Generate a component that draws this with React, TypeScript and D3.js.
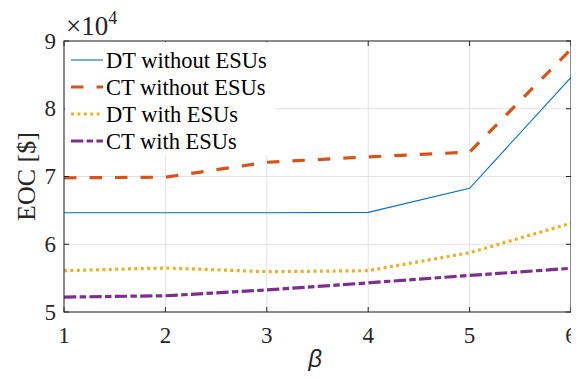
import React, { useEffect, useRef } from 'react';
import * as d3 from 'd3';

const betas = [1, 2, 3, 4, 5, 6];
const dtWithout = [6.465, 6.465, 6.465, 6.47, 6.826, 8.464];
const ctWithout = [6.98, 6.99, 7.21, 7.29, 7.36, 8.88];
const dtWith = [5.61, 5.65, 5.595, 5.61, 5.875, 6.31];
const ctWith = [5.22, 5.24, 5.325, 5.43, 5.54, 5.645];
const xTicks = [1, 2, 3, 4, 5, 6];
const yTicks = [5, 6, 7, 8, 9];

const series = [
  { name: 'DT without ESUs', values: dtWithout, color: '#0072BD', width: 1.1, dash: '' },
  { name: 'CT without ESUs', values: ctWithout, color: '#D95319', width: 3.2, dash: '12.5,13' },
  { name: 'DT with ESUs', values: dtWith, color: '#EDB120', width: 3.2, dash: '3,3.4' },
  { name: 'CT with ESUs', values: ctWith, color: '#7E2F8E', width: 3.2, dash: '12.3,3.3,6.5,3.3' },
];

const W = 579;
const H = 379;
const FONT = 'Liberation Serif';

const App = () => {
  const svgRef = useRef<SVGSVGElement>(null);

  useEffect(() => {
    const svg = d3.select(svgRef.current);
    svg.selectAll('*').remove();
    svg.attr('font-family', FONT);

    const margin = { top: 41, right: 8, bottom: 67, left: 64 };
    const innerWidth = W - margin.left - margin.right;
    const innerHeight = H - margin.top - margin.bottom;
    const axisColor = '#262626';

    const g = svg.append('g').attr('transform', `translate(${margin.left},${margin.top})`);

    const x = d3.scaleLinear().domain([1, 6]).range([0, innerWidth]);
    const y = d3.scaleLinear().domain([5, 9]).range([innerHeight, 0]);

    // grid
    g.append('g')
      .selectAll('line')
      .data(xTicks)
      .enter()
      .append('line')
      .attr('x1', d => x(d))
      .attr('x2', d => x(d))
      .attr('y1', 0)
      .attr('y2', innerHeight)
      .attr('stroke', '#e3e3e3')
      .attr('stroke-width', 1);
    g.append('g')
      .selectAll('line')
      .data(yTicks)
      .enter()
      .append('line')
      .attr('x1', 0)
      .attr('x2', innerWidth)
      .attr('y1', d => y(d))
      .attr('y2', d => y(d))
      .attr('stroke', '#e3e3e3')
      .attr('stroke-width', 1);

    // lines
    const line = d3
      .line<number>()
      .x((_, i) => x(betas[i]))
      .y(d => y(d));

    series.forEach(s => {
      g.append('path')
        .datum(s.values)
        .attr('d', line)
        .attr('fill', 'none')
        .attr('stroke', s.color)
        .attr('stroke-width', s.width)
        .attr('stroke-dasharray', s.dash);
    });

    // axes box
    const ax = g.append('g').attr('stroke', axisColor).attr('stroke-width', 1);
    ax.append('rect')
      .attr('x', 0)
      .attr('y', 0)
      .attr('width', innerWidth)
      .attr('height', innerHeight)
      .attr('fill', 'none');

    const tickLen = 5;
    xTicks.forEach(t => {
      ax.append('line').attr('x1', x(t)).attr('x2', x(t)).attr('y1', innerHeight).attr('y2', innerHeight - tickLen);
      ax.append('line').attr('x1', x(t)).attr('x2', x(t)).attr('y1', 0).attr('y2', tickLen);
    });
    yTicks.forEach(t => {
      ax.append('line').attr('x1', 0).attr('x2', tickLen).attr('y1', y(t)).attr('y2', y(t));
      ax.append('line').attr('x1', innerWidth).attr('x2', innerWidth - tickLen).attr('y1', y(t)).attr('y2', y(t));
    });

    // tick labels
    g.append('g')
      .selectAll('text')
      .data(xTicks)
      .enter()
      .append('text')
      .attr('x', d => x(d))
      .attr('y', innerHeight + 31)
      .attr('text-anchor', 'middle')
      .attr('font-size', 23)
      .attr('fill', axisColor)
      .text(d => d);

    g.append('g')
      .selectAll('text')
      .data(yTicks)
      .enter()
      .append('text')
      .attr('x', -8)
      .attr('y', d => y(d) + 7.5)
      .attr('text-anchor', 'end')
      .attr('font-size', 23)
      .attr('fill', axisColor)
      .text(d => d);

    // exponent
    const exp = svg.append('text')
      .attr('x', 66)
      .attr('y', 35)
      .attr('font-size', 27)
      .attr('fill', axisColor);
    exp.append('tspan').text('×10');
    exp.append('tspan').attr('dy', -11).attr('font-size', 18).text('4');

    // axis labels
    svg.append('text')
      .attr('transform', `translate(35,${margin.top + innerHeight / 2}) rotate(-90)`)
      .attr('text-anchor', 'middle')
      .attr('font-size', 26)
      .attr('fill', axisColor)
      .text('EOC [$]');

    svg.append('text')
      .attr('x', 315)
      .attr('y', 367)
      .attr('text-anchor', 'middle')
      .attr('font-family', 'Liberation Sans')
      .attr('font-size', 24)
      .attr('font-style', 'italic')
      .attr('fill', axisColor)
      .text('β');

    // legend
    const lg = g.append('g').attr('transform', 'translate(1,1)');
    lg.append('rect')
      .attr('x', 0)
      .attr('y', 0)
      .attr('width', 210)
      .attr('height', 113)
      .attr('fill', '#ffffff');
    series.forEach((s, i) => {
      const cy = 18 + i * 27;
      lg.append('line')
        .attr('x1', 6)
        .attr('x2', 38)
        .attr('y1', cy)
        .attr('y2', cy)
        .attr('stroke', s.color)
        .attr('stroke-width', s.width)
        .attr('stroke-dasharray', s.dash);
      lg.append('text')
        .attr('x', 41)
        .attr('y', cy + 7.5)
        .attr('font-size', 22.5)
        .attr('fill', '#000')
        .text(s.name);
    });
  }, []);

  return (
    <div style={{ margin: -8 }}>
      <svg ref={svgRef} width={W} height={H} style={{ display: 'block' }}></svg>
    </div>
  );
};

export default App;
